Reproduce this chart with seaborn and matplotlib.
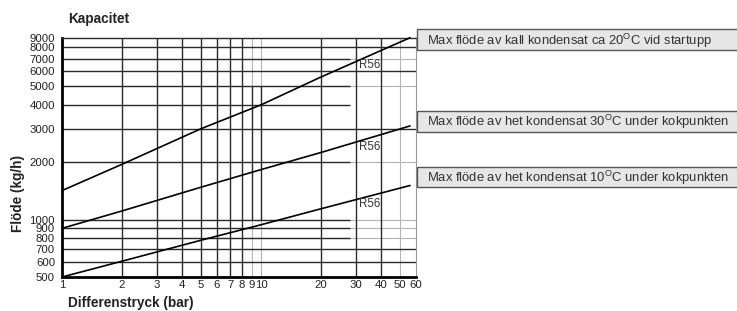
import matplotlib
matplotlib.use("Agg")
import matplotlib.pyplot as plt
from matplotlib.patches import Rectangle
from matplotlib.ticker import NullLocator
import pandas as pd
import seaborn as sns

# values (log-log scale)
pressure = [1, 2, 5, 10, 20, 56]
flow_cold_20 = [1420, 1950, 3000, 4000, 5600, 9000]
flow_hot_30 = [900, 1110, 1480, 1830, 2250, 3100]
flow_hot_10 = [500, 605, 780, 940, 1140, 1510]

series_names = ["kall 20", "het 30", "het 10"]
series_labels = [
    r"Max flöde av kall kondensat ca 20$^{\mathregular{O}}$C vid startupp",
    r"Max flöde av het kondensat 30$^{\mathregular{O}}$C under kokpunkten",
    r"Max flöde av het kondensat 10$^{\mathregular{O}}$C under kokpunkten",
]
valve_label = "R56"
valve_label_x = 31
valve_label_y = [6470, 2400, 1210]

x_ticks = [1, 2, 3, 4, 5, 6, 7, 8, 9, 10, 20, 30, 40, 50, 60]
y_ticks = [500, 600, 700, 800, 900, 1000, 2000, 3000, 4000, 5000, 6000, 7000, 8000, 9000]

# grid as printed on the original sheet
x_grid_dark = [2, 3, 4, 5, 6, 7, 8, 20, 30, 40]
x_grid_light = [9, 10, 50]
x_grid_partial = [9, 10]          # dark only between 1000 and 5000
y_grid_full = [600, 700, 3000, 6000, 8000]
y_grid_short = [800, 900, 1000, 2000, 4000, 5000, 7000]   # stop near 28 bar
y_grid_light = [800, 900, 1000, 2000, 5000, 7000]
short_end = 28

df = pd.DataFrame({
    "dp": pressure * 3,
    "flow": flow_cold_20 + flow_hot_30 + flow_hot_10,
    "series": [n for n in series_names for _ in pressure],
})

sns.set_style("white")
plt.rcParams["font.family"] = ["Liberation Sans", "DejaVu Sans"]

W, H = 737, 311
fig = plt.figure(figsize=(W / 100, H / 100), dpi=100)
ax = fig.add_axes([62 / W, (H - 277) / H, (416 - 62) / W, (277 - 37.7) / H])
ax.set_xscale("log")
ax.set_yscale("log")
ax.set_xlim(1, 60)
ax.set_ylim(500, 9000)

dark, light = "#2a2a2a", "#b5b5b5"
for v in x_grid_light:
    ax.axvline(v, color=light, lw=0.8, zorder=1)
for v in x_grid_dark:
    ax.axvline(v, color=dark, lw=1.0, zorder=2)
for v in x_grid_partial:
    ax.vlines(v, 1000, 5000, color=dark, lw=1.0, zorder=2)
for v in y_grid_light:
    ax.axhline(v, color=light, lw=0.8, zorder=1)
for v in y_grid_full:
    ax.axhline(v, color=dark, lw=1.0, zorder=2)
for v in y_grid_short:
    ax.hlines(v, 1, short_end, color=dark, lw=1.0, zorder=2)

sns.lineplot(data=df, x="dp", y="flow", hue="series", palette=["black"] * 3,
             legend=False, lw=1.2, ax=ax, zorder=3, clip_on=False)

for yv in valve_label_y:
    ax.text(valve_label_x, yv, valve_label, fontsize=8.3, color="#333333",
            ha="left", va="center", zorder=4)

ax.set_xticks(x_ticks, labels=[str(v) for v in x_ticks])
ax.set_yticks(y_ticks, labels=[str(v) for v in y_ticks])
ax.xaxis.set_minor_locator(NullLocator())
ax.yaxis.set_minor_locator(NullLocator())
ax.tick_params(axis="x", length=2, direction="in", pad=2.5, labelsize=8.2, colors="#222222")
ax.tick_params(axis="y", length=0, pad=5, labelsize=8.2, colors="#222222")

for side in ["left", "bottom"]:
    ax.spines[side].set_linewidth(2)
    ax.spines[side].set_color("black")
ax.spines["top"].set_color(dark)
ax.spines["top"].set_linewidth(1.0)
ax.spines["right"].set_color("#999999")
ax.spines["right"].set_linewidth(0.8)

bold = dict(weight="bold", fontsize=9.8, color="#222222")
ax.set_xlabel("")
ax.set_ylabel("")
fig.text(68 / W, 1 - 22.7 / H, "Kapacitet", ha="left", va="baseline", **bold)
fig.text(68 / W, 1 - 306.5 / H, "Differenstryck (bar)", ha="left", va="baseline", **bold)
fig.text(18 / W, 1 - 194 / H, "Flöde (kg/h)", ha="center", va="center", rotation=90, **bold)

# annotation boxes on the right, running off the sheet edge
boxes = [(29.3, 50.0), (111.0, 131.7), (166.7, 187.3)]
for (top, bottom), label in zip(boxes, series_labels):
    fig.add_artist(Rectangle((416.5 / W, 1 - bottom / H), (W + 5 - 416.5) / W, (bottom - top) / H,
                             transform=fig.transFigure, facecolor="#e6e6e6",
                             edgecolor="#555555", lw=1.0, clip_on=False))
    fig.text(427 / W, 1 - (top + bottom) / 2 / H - 1 / H, label, ha="left", va="center",
             fontsize=9.4, color="#333333")

fig.savefig("out.png", dpi=100)
